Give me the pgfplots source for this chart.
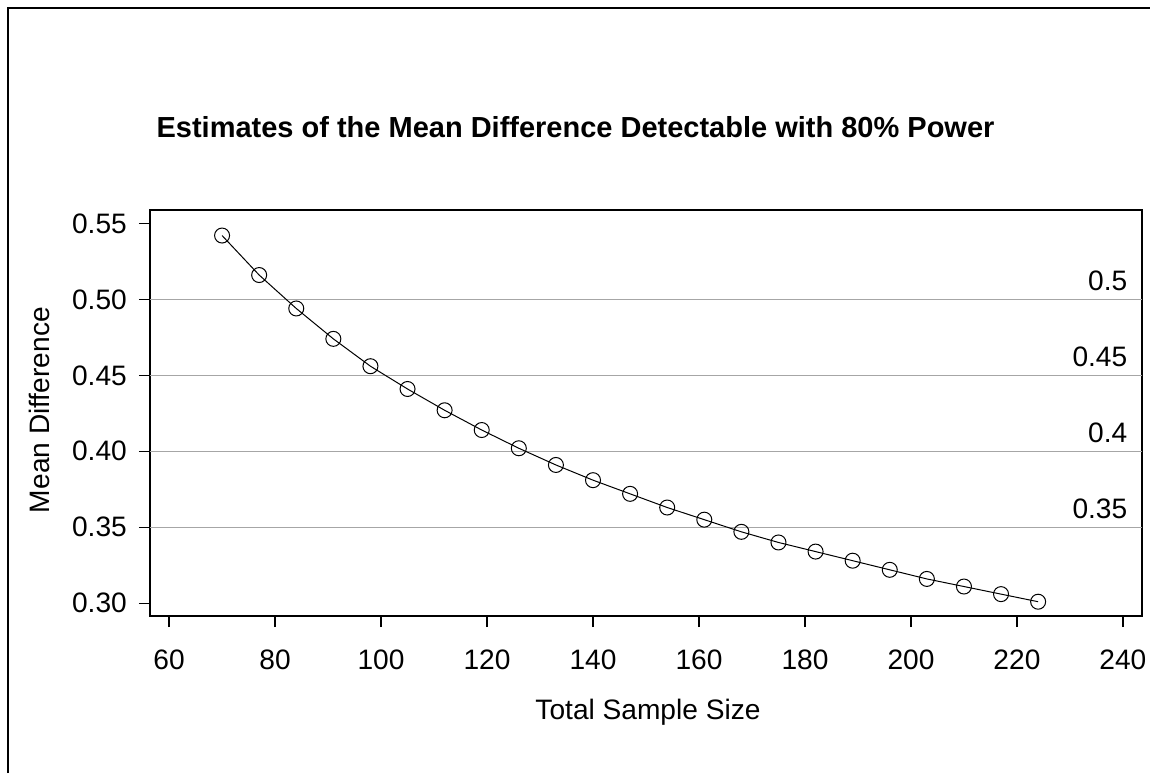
\documentclass[border=0pt]{standalone}
\usepackage{pgfplots}
\pgfplotsset{compat=1.18}
\usepackage{fontspec}
\setmainfont{Liberation Sans}

\pgfplotstableread{
n   d
70  0.542
77  0.516
84  0.494
91  0.474
98  0.456
105 0.441
112 0.427
119 0.414
126 0.402
133 0.391
140 0.381
147 0.372
154 0.363
161 0.355
168 0.347
175 0.340
182 0.334
189 0.328
196 0.322
203 0.316
210 0.311
217 0.306
224 0.301
}\powerdata

\begin{document}
\begin{tikzpicture}[font=\fontsize{16}{19}\selectfont]
\begin{axis}[
  at={(30mm,31.4mm)}, anchor=south west,
  width=198.4mm, height=81.2mm, scale only axis,
  xmin=56.4, xmax=243.6, ymin=0.2916, ymax=0.5588,
  xtick={60,80,...,240},
  ytick={0.30,0.35,...,0.55},
  yticklabel style={xshift=-1.2mm, /pgf/number format/.cd, fixed, fixed zerofill, precision=2},
  xticklabel style={yshift=-3.4mm},
  /pgf/number format/assume math mode=true,
  tick align=outside, tickwidth=2.2mm,
  xtick pos=bottom, ytick pos=left,
  tick style={black, line width=0.25mm},
  axis line style={line width=0.3mm},
  xlabel={Total Sample Size},
  ylabel={Mean Difference},
  xlabel style={at={(axis description cs:0.502,-0.236)}, anchor=center},
  ylabel style={at={(axis description cs:-0.111,0.507)}, anchor=center, rotate=0},
  clip=false,
]
\foreach \v/\t in {0.5/0.5,0.45/0.45,0.4/0.4,0.35/0.35}{
  \edef\tmp{\noexpand\addplot[gray!70, line width=0.3mm, forget plot] coordinates {(56.4,\v)(243.6,\v)}
    node[pos=1, anchor=south east, inner sep=0pt, xshift=-2.8mm, yshift=1.6mm, text=black] {\t};}
  \tmp
}
\addplot[black, line width=0.2mm, mark=o, mark size=1.5mm, mark options={line width=0.2mm}] table[x=n,y=d] {\powerdata};
\node[font=\fontsize{16.5}{19}\selectfont\bfseries] at (axis description cs:0.429,1.204) {Estimates of the Mean Difference Detectable with 80\% Power};
\end{axis}
\draw[line width=0.5mm] (1.6mm,0) -- (1.6mm,153mm) -- (230mm,153mm);
\pgfresetboundingbox
\useasboundingbox (0,0) rectangle (230mm,154.6mm);
\end{tikzpicture}
\end{document}
